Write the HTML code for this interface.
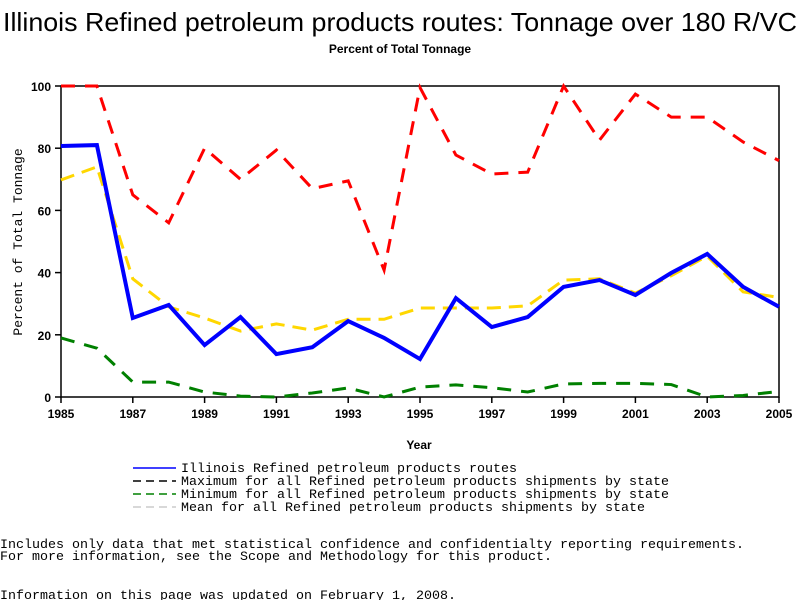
<!DOCTYPE html>
<html><head><meta charset="utf-8"><style>
body{margin:0;background:#fff;width:800px;height:600px;overflow:hidden}
svg{display:block}
.m{font-family:"Liberation Mono",monospace;font-size:13px}
</style></head><body>
<svg id="c" width="800" height="600" xmlns="http://www.w3.org/2000/svg">
<text x="3" y="31" textLength="794" lengthAdjust="spacingAndGlyphs" font-family="Liberation Sans, sans-serif" font-size="26">Illinois Refined petroleum products routes: Tonnage over 180 R/VC</text>
<text x="400" y="53" text-anchor="middle" font-family="Liberation Sans, sans-serif" font-size="12" font-weight="bold">Percent of Total Tonnage</text>
<rect x="61" y="86" width="718" height="311" fill="none" stroke="#000" stroke-width="1.5"/>
<g id="axes"></g>
<g id="series"></g>
<text x="419" y="449" text-anchor="middle" font-family="Liberation Sans, sans-serif" font-size="12" font-weight="bold">Year</text>
<text transform="translate(22,242) rotate(-90)" text-anchor="middle" class="m" font-size="11">Percent of Total Tonnage</text>
<g id="legend"></g>
<text x="0" y="548" class="m" textLength="744" lengthAdjust="spacingAndGlyphs">Includes only data that met statistical confidence and confidentialty reporting requirements.</text>
<text x="0" y="560" class="m" textLength="552" lengthAdjust="spacingAndGlyphs">For more information, see the Scope and Methodology for this product.</text>
<text x="0" y="599" class="m" textLength="456" lengthAdjust="spacingAndGlyphs">Information on this page was updated on February 1, 2008.</text>
</svg>
<script>
const years=[1985,1986,1987,1988,1989,1990,1991,1992,1993,1994,1995,1996,1997,1998,1999,2000,2001,2002,2003,2004,2005];
const illinois=[80.7,81,25.4,29.6,16.7,25.7,13.8,16,24.4,19,12.2,31.8,22.5,25.7,35.4,37.6,32.8,39.9,46,35.4,29];
const maxVals=[100,100,65,56,80,70,79.4,67,69.5,40.8,99.5,77.8,71.7,72.3,100,82.6,97.4,90,90,82,76];
const minVals=[19,15.7,4.8,4.8,1.6,0.3,0,1.3,2.9,0,3.2,3.9,3,1.6,4.2,4.4,4.4,4,0,0.5,1.8];
const meanVals=[69.8,74,38,29,25.4,21.2,23.5,21.5,25,25,28.6,28.6,28.6,29.3,37.6,38,33.4,39,45.3,33.8,32];
const xTicks=[1985,1987,1989,1991,1993,1995,1997,1999,2001,2003,2005];
const yTicks=[0,20,40,60,80,100];
const NS="http://www.w3.org/2000/svg";
const X=v=>61+(v-1985)*(718/20);
const Y=v=>397-v*3.11;
function mk(t,a,p){const e=document.createElementNS(NS,t);for(const k in a)e.setAttribute(k,a[k]);p.appendChild(e);return e;}
const ax=document.getElementById('axes');
xTicks.forEach(t=>{
 const l=mk('line',{x1:X(t),x2:X(t),y1:397,y2:403,stroke:'#000','stroke-width':1.5},ax);
 
 
 const s=mk('text',{x:X(t),y:418,'text-anchor':'middle','font-family':'Liberation Sans, sans-serif','font-size':12,'font-weight':'bold'},ax);
 s.textContent=t;
 
 
});
yTicks.forEach(t=>{
 const l=mk('line',{x1:55,x2:61,y1:Y(t),y2:Y(t),stroke:'#000','stroke-width':1.5},ax);
 
 
 const s=mk('text',{x:51,y:Y(t)+5,'text-anchor':'end','font-family':'Liberation Sans, sans-serif','font-size':12,'font-weight':'bold'},ax);
 s.textContent=t;
 
 
});
const sg=document.getElementById('series');
const defs=[
 {d:maxVals,c:'#ff0000',w:3,da:'14 10',n:'max-line'},
 {d:minVals,c:'#008000',w:3,da:'14 10',n:'min-line'},
 {d:meanVals,c:'#ffd700',w:3,da:'14 8',n:'mean-line'},
 {d:illinois,c:'#0000ff',w:4,da:'',n:'illinois-line'}
];
defs.forEach(s=>{
 const p=mk('polyline',{points:s.d.map((v,i)=>X(years[i])+','+Y(v)).join(' '),fill:'none',stroke:s.c,'stroke-width':s.w,'stroke-dasharray':s.da},sg);
 
 
});
const lg=document.getElementById('legend');
const items=[['#0000ff','','Illinois Refined petroleum products routes'],['#000000','8 5','Maximum for all Refined petroleum products shipments by state'],['#008000','8 5','Minimum for all Refined petroleum products shipments by state'],['#cccccc','8 5','Mean for all Refined petroleum products shipments by state']];
items.forEach((it,i)=>{
 const y=468+i*13;
 const l=mk('line',{x1:133,x2:176,y1:y,y2:y,stroke:it[0],'stroke-width':1.5,'stroke-dasharray':it[1]},lg);
 
 
 const t=mk('text',{x:181,y:y+4,class:'m',textLength:it[2].length*8,lengthAdjust:'spacingAndGlyphs'},lg);
 t.textContent=it[2];
 
 
});
</script>
</body></html>
